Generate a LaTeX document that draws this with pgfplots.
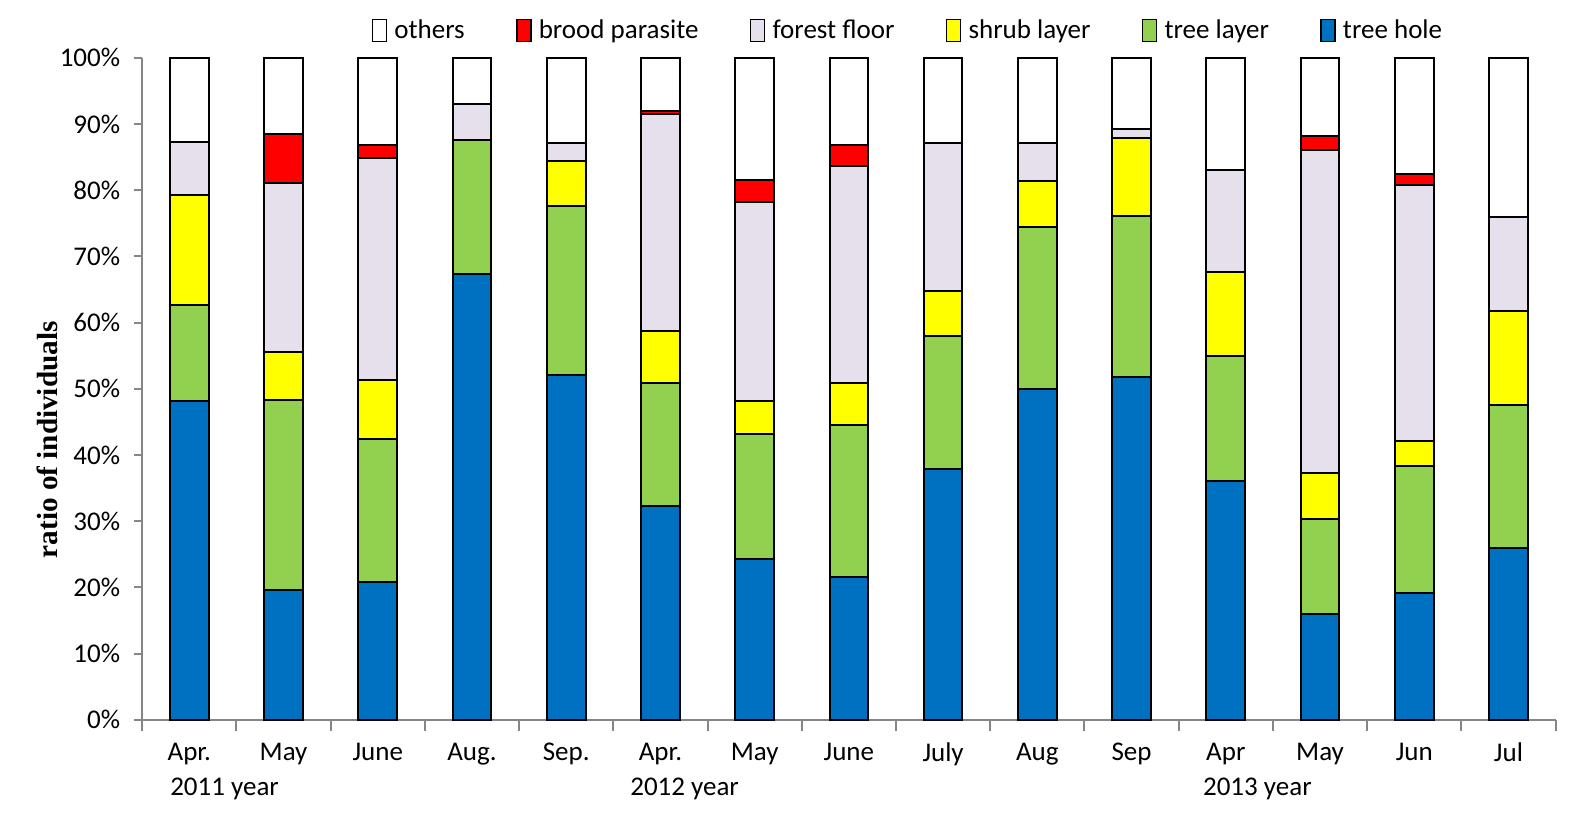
\documentclass[border=0pt]{standalone}
\usepackage{pgfplots}
\usepackage{pgfplotstable}
\pgfplotsset{compat=1.18}
\usepackage{fontspec}
\setmainfont{Carlito}
\newfontfamily\serifb{Liberation Serif}
\definecolor{thole}{HTML}{0070C0}
\definecolor{tlayer}{HTML}{92D050}
\definecolor{shrub}{HTML}{FFFF00}
\definecolor{ffloor}{HTML}{E5E0EC}
\definecolor{brood}{HTML}{FF0000}
\definecolor{axgray}{HTML}{868686}
\pgfplotstableread{
x th tl sh ff bp ot
0 48.2 14.5 16.5 8.1 0.0 12.7
1 19.6 28.7 7.3 25.5 7.4 11.5
2 20.8 21.6 8.9 33.5 2.1 13.1
3 67.4 20.2 0.0 5.4 0.0 7.0
4 52.1 25.5 6.8 2.8 0.0 12.8
5 32.3 18.6 7.9 32.7 0.5 8.0
6 24.3 18.9 5.0 30.0 3.3 18.5
7 21.6 23.0 6.3 32.8 3.1 13.2
8 37.9 20.1 6.7 22.5 0.0 12.8
9 50.0 24.5 6.9 5.8 0.0 12.8
10 51.8 24.3 11.8 1.4 0.0 10.7
11 36.1 18.9 12.6 15.4 0.0 17.0
12 16.0 14.3 7.0 48.8 2.1 11.8
13 19.2 19.2 3.7 38.7 1.7 17.5
14 26.0 21.6 14.2 14.2 0.0 24.0
}\datatable
\begin{document}
\begin{tikzpicture}
\begin{axis}[
  name=ax,
  scale only axis, width=706.7pt, height=331pt,
  ybar stacked, bar width=0.41,
  xmin=-0.5, xmax=14.5, ymin=0, ymax=100,
  axis x line*=bottom, axis y line*=left,
  axis line style={draw=axgray, line width=1pt, -},
  xtick={0,...,14},
  xticklabels={Apr.,May,June,Aug.,Sep.,Apr.,May,June,July,Aug,Sep,Apr,May,Jun,Jul},
  minor xtick={-0.5,0.5,...,14.5},
  major x tick style={draw=none},
  minor x tick style={draw=axgray, line width=1pt},
  minor tick length=5.5pt,
  ytick={0,10,...,100},
  y tick style={draw=axgray, line width=1pt},
  major tick length=4pt,
  tick align=outside,
  yticklabel={\pgfmathprintnumber{\tick}\%},
  /pgf/number format/assume math mode=true,
  tick label style={font=\fontsize{13.5}{15}\selectfont},
  yticklabel style={xshift=-3.5pt},
  xticklabel style={yshift=-4pt},
  ylabel={\serifb\bfseries ratio of individuals},
  every axis y label/.style={at={(axis description cs:-0.0668,0.423)}, rotate=90, anchor=center, font=\fontsize{14.6}{16}\selectfont},
  legend columns=-1,
  reverse legend,
  legend style={at={(0.162,1.041)}, anchor=west, draw=none, inner sep=0pt,
    font=\fontsize{13.5}{15}\selectfont,
    /tikz/every even column/.append style={column sep=23.6pt}},
  legend image code/.code={\draw[#1,draw=black,line width=0.8pt] (0pt,-5.5pt) rectangle (7pt,5.5pt); \path (8.5pt,0pt);},
  every axis plot/.append style={draw=black, line width=1pt},
  clip=false,
]
\addplot[fill=thole] table[x=x,y=th]{\datatable};
\addplot[fill=tlayer] table[x=x,y=tl]{\datatable};
\addplot[fill=shrub] table[x=x,y=sh]{\datatable};
\addplot[fill=ffloor] table[x=x,y=ff]{\datatable};
\addplot[fill=brood] table[x=x,y=bp]{\datatable};
\addplot[fill=white] table[x=x,y=ot]{\datatable};
\legend{tree hole,tree layer,shrub layer,forest floor,brood parasite,others}
\node[font=\fontsize{13.5}{15}\selectfont] at (axis cs:0.374,0) [yshift=-34.5pt] {2011 year};
\node[font=\fontsize{13.5}{15}\selectfont] at (axis cs:5.256,0) [yshift=-34.5pt] {2012 year};
\node[font=\fontsize{13.5}{15}\selectfont] at (axis cs:11.335,0) [yshift=-34.5pt] {2013 year};
\end{axis}
\pgfresetboundingbox
\path[use as bounding box] ([shift={(-71.1pt,-46.6pt)}]ax.south west) rectangle ++(796pt,406.5pt);
\end{tikzpicture}
\end{document}
